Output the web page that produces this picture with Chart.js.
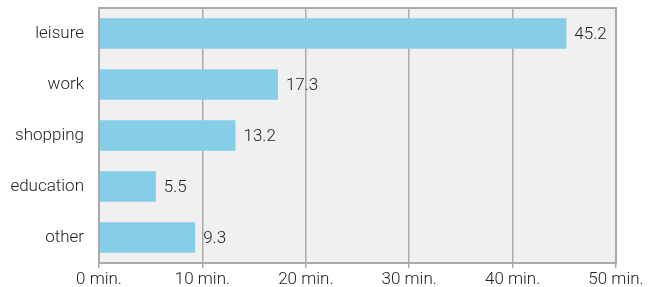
<!DOCTYPE html>
<html><head><meta charset="utf-8">
<script src="https://cdn.jsdelivr.net/npm/chart.js@4"></script>
<style>html,body{margin:0;padding:0;background:#fff}#wrap{width:649px;height:287px}</style>
</head><body><div id="wrap"><canvas id="c"></canvas></div>
<script>
const categories = ["leisure", "work", "shopping", "education", "other"];
const minutes = [45.2, 17.3, 13.2, 5.5, 9.3];
const xTicks = [0, 10, 20, 30, 40, 50];

const FONT = {family: "Roboto", size: 17, weight: 300};
const TEXT = '#222';
const plotBg = {
  id: 'plotBg',
  beforeDraw(chart) {
    const {ctx, chartArea: a} = chart;
    ctx.save();
    ctx.fillStyle = '#f0f0f0';
    ctx.fillRect(a.left, a.top, a.right - a.left, a.bottom - a.top);
    ctx.restore();
  },
  afterDatasetsDraw(chart) {
    const {ctx, chartArea: a} = chart;
    ctx.save();
    ctx.strokeStyle = '#aaaaaa';
    ctx.lineWidth = 2;
    ctx.strokeRect(a.left, a.top, a.right - a.left, a.bottom - a.top);
    const meta = chart.getDatasetMeta(0);
    ctx.fillStyle = TEXT;
    ctx.font = '300 17px Roboto';
    ctx.textBaseline = 'middle';
    ctx.textAlign = 'left';
    meta.data.forEach((bar, i) => {
      ctx.fillText(String(minutes[i]), bar.x + 8, bar.y + 1);
    });
    ctx.restore();
  }
};

new Chart(document.getElementById('c'), {
  type: 'bar',
  data: {labels: categories, datasets: [{data: minutes, backgroundColor: '#86cde8', borderWidth: 0, categoryPercentage: 1, barPercentage: 0.6}]},
  options: {
    indexAxis: 'y', responsive: true, maintainAspectRatio: false, animation: false,
    layout: {padding: {top: 8, right: 33, left: 0, bottom: 0}},
    plugins: {legend: {display: false}, tooltip: {enabled: false}},
    scales: {
      x: {
        min: 0, max: 50,
        afterBuildTicks(s) { s.ticks = xTicks.map(v => ({value: v})); },
        afterFit(s) { s.height = 24; s.paddingLeft = 0; s.paddingRight = 0; },
        grid: {color: '#aaaaaa', lineWidth: 1.5, tickLength: 5, drawTicks: true},
        border: {display: false},
        ticks: {color: TEXT, font: FONT, padding: 2, maxRotation: 0, callback: v => v + ' min.'}
      },
      y: {
        afterFit(s) { s.width = 99; s.paddingTop = 0; s.paddingBottom = 0; },
        grid: {display: false},
        border: {display: false},
        ticks: {color: TEXT, font: FONT, padding: 7}
      }
    }
  },
  plugins: [plotBg]
});
</script></body></html>
